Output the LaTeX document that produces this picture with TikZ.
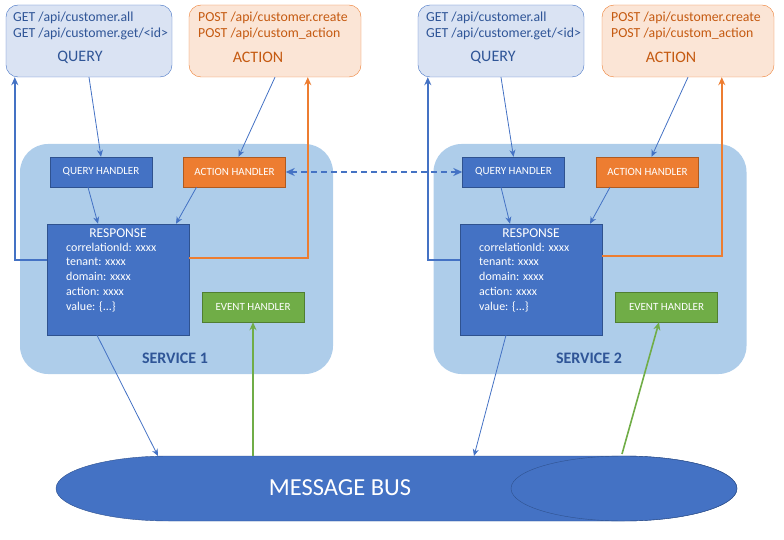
\documentclass[tikz,border=0pt]{standalone}
\usepackage{fontspec}
\setmainfont{Carlito}
\usetikzlibrary{arrows, arrows.meta, positioning}
\definecolor{accBlue}{HTML}{4472C4}
\definecolor{darkBlue}{HTML}{2F528F}
\definecolor{textBlue}{HTML}{2F5597}
\definecolor{paleBlue}{HTML}{DAE3F3}
\definecolor{serviceBlue}{HTML}{AECDEA}
\definecolor{accOrange}{HTML}{ED7D31}
\definecolor{darkOrange}{HTML}{AE5A21}
\definecolor{textOrange}{HTML}{C55A11}
\definecolor{paleOrange}{HTML}{FBE5D6}
\definecolor{accGreen}{HTML}{70AD47}
\definecolor{darkGreen}{HTML}{507E32}

\begin{document}
\begin{tikzpicture}[x=1pt,y=-1pt]
		\tikzstyle{QueryBox} = [rectangle, rounded corners=12pt, minimum width=166pt, minimum height=72pt, draw=accBlue, fill=paleBlue]
		\tikzstyle{ActionBox} = [rectangle, rounded corners=12pt, minimum width=172pt, minimum height=72pt, draw=accOrange, fill=paleOrange]
		\tikzstyle{Service} = [rectangle, rounded corners=28pt, minimum width=313pt, minimum height=230pt, fill=serviceBlue]
		\tikzstyle{QueryHandler} = [rectangle, minimum width=102pt, minimum height=30pt, text centered, draw=darkBlue, fill=accBlue, text=white, font=\fontsize{11}{13}\selectfont]
		\tikzstyle{ActionHandler} = [QueryHandler, draw=darkOrange, fill=accOrange]
		\tikzstyle{EventHandler} = [QueryHandler, draw=darkGreen, fill=accGreen]
		\tikzstyle{Response} = [rectangle, minimum width=142pt, minimum height=111pt, draw=darkBlue, fill=accBlue]
		\tikzstyle{ApiText} = [anchor=west, inner sep=0pt, align=left, font=\fontsize{13.8}{16}\selectfont]
		\tikzstyle{BigLabel} = [inner sep=0pt, font=\fontsize{16}{18}\selectfont]
		\tikzstyle{FieldText} = [anchor=north west, inner sep=0pt, align=left, text=white, font=\fontsize{12}{14.75}\selectfont]
		\tikzstyle{arrow} = [line width=0.8pt, accBlue, -{Stealth[length=7pt, width=6pt]}]
		\tikzstyle{returnArrow} = [line width=1.6pt, -{Stealth[length=8pt, width=7pt]}]
		
		\useasboundingbox (0,0) rectangle (784,540);
		
		% endpoints
		\node (queryBox1) [QueryBox] at (89,41) {};
		\node (actionBox1) [ActionBox] at (275,41) {};
		\node (queryBox2) [QueryBox] at (501,41) {};
		\node (actionBox2) [ActionBox] at (688,41) {};
		\node (getText1) [ApiText, text=textBlue] at (13,26) {GET /api/customer.all\\GET /api/customer.get/<id>};
		\node (postText1) [ApiText, text=textOrange] at (198,26) {POST /api/customer.create\\POST /api/custom\_action};
		\node (getText2) [ApiText, text=textBlue] at (426,26) {GET /api/customer.all\\GET /api/customer.get/<id>};
		\node (postText2) [ApiText, text=textOrange] at (611,26) {POST /api/customer.create\\POST /api/custom\_action};
		\node (queryLabel1) [BigLabel, text=textBlue] at (80,57) {QUERY};
		\node (actionLabel1) [BigLabel, text=textOrange] at (258,57) {ACTION};
		\node (queryLabel2) [BigLabel, text=textBlue] at (493,57) {QUERY};
		\node (actionLabel2) [BigLabel, text=textOrange] at (671,57) {ACTION};
		
		% services
		\node (service1) [Service] at (176.5,259) {};
		\node (service2) [Service] at (590,259) {};
		\node (serviceLabel1) [BigLabel, text=textBlue, font=\fontsize{16}{18}\selectfont\bfseries] at (175,358) {SERVICE 1};
		\node (serviceLabel2) [BigLabel, text=textBlue, font=\fontsize{16}{18}\selectfont\bfseries] at (589,358) {SERVICE 2};
		\node (queryHandler1) [QueryHandler] at (101,172) {QUERY HANDLER};
		\node (actionHandler1) [ActionHandler] at (234.5,172) {ACTION HANDLER};
		\node (eventHandler1) [EventHandler] at (253,307) {EVENT HANDLER};
		\node (queryHandler2) [QueryHandler] at (513.5,172) {QUERY HANDLER};
		\node (actionHandler2) [ActionHandler] at (647.5,172) {ACTION HANDLER};
		\node (eventHandler2) [EventHandler] at (666.5,307) {EVENT HANDLER};
		\node (response1) [Response] at (118,279.5) {};
		\node (response2) [Response] at (531,279.5) {};
		\node (respTitle1) [BigLabel, text=white, font=\fontsize{13.5}{16}\selectfont] at (118,233) {RESPONSE};
		\node (respTitle2) [BigLabel, text=white, font=\fontsize{13.5}{16}\selectfont] at (531,233) {RESPONSE};
		\node (fields1) [FieldText] at (66,242.5) {correlationId: xxxx\\tenant: xxxx\\domain: xxxx\\action: xxxx\\value: \{...\}};
		\node (fields2) [FieldText] at (479,242.5) {correlationId: xxxx\\tenant: xxxx\\domain: xxxx\\action: xxxx\\value: \{...\}};
		
		% message bus
		\draw [draw=darkBlue, fill=accBlue] (169,456) -- (624,456) arc [start angle=90, end angle=-90, x radius=113pt, y radius=32.5pt] -- (169,521) arc [start angle=270, end angle=90, x radius=113pt, y radius=32.5pt] -- cycle;
		\draw [darkBlue] (624,488.5) ellipse [x radius=113pt, y radius=32.5pt];
		\node (busNode) [text=white, font=\fontsize{24.5}{28}\selectfont] at (340,488) {MESSAGE BUS};
		\coordinate (busIn1) at (158,456);
		\coordinate (busOut1) at (253,456);
		\coordinate (busIn2) at (474,456);
		\coordinate (busOut2) at (622,454);
		
		\draw [arrow] (queryBox1.south) -- (queryHandler1.north);
		\draw [arrow] (actionBox1.south) -- ([xshift=4pt]actionHandler1.north);
		\draw [arrow] ([xshift=-13pt]queryHandler1.south) -- ([xshift=-20pt]response1.north);
		\draw [arrow] ([xshift=-38pt]actionHandler1.south) -- ([xshift=58pt]response1.north);
		\draw [arrow] ([xshift=-21pt]response1.south) -- (busIn1);
		\draw [arrow] (queryBox2.south) -- (queryHandler2.north);
		\draw [arrow] (actionBox2.south) -- ([xshift=4pt]actionHandler2.north);
		\draw [arrow] ([xshift=-12.5pt]queryHandler2.south) -- ([xshift=-21pt]response2.north);
		\draw [arrow] ([xshift=-37.5pt]actionHandler2.south) -- ([xshift=59pt]response2.north);
		\draw [arrow] ([xshift=-25pt]response2.south) -- (busIn2);
		\draw [returnArrow, accBlue] (response1.west |- 0,260) -| ([xshift=9pt]queryBox1.south west);
		\draw [returnArrow, accOrange] (response1.east |- 0,258) -| ([xshift=119pt]actionBox1.south west);
		\draw [returnArrow, accBlue] (response2.west |- 0,260) -| ([xshift=10pt]queryBox2.south west);
		\draw [returnArrow, accOrange] (response2.east |- 0,256) -| ([xshift=120pt]actionBox2.south west);
		\draw [returnArrow, accGreen] (busOut1) -- (eventHandler1.south);
		\draw [returnArrow, accGreen] (busOut2) -- ([xshift=-7.5pt]eventHandler2.south);
		\draw [returnArrow, accBlue, dash pattern=on 6pt off 4pt, {Stealth[length=9pt, width=8pt]}-{Stealth[length=9pt, width=8pt]}] (actionHandler1.east) -- (queryHandler2.west);
		\end{tikzpicture}
\end{document}
